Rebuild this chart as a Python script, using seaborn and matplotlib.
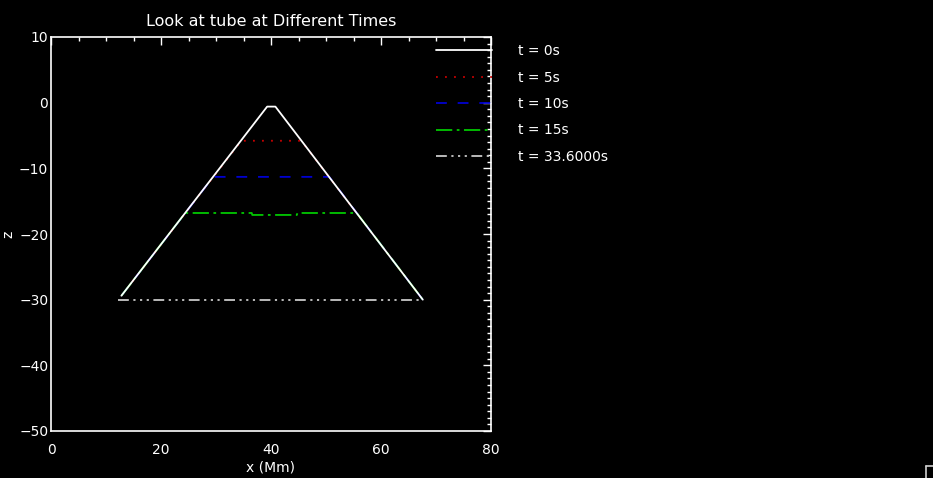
import numpy as np
import pandas as pd
import matplotlib
matplotlib.use('Agg')
import matplotlib.pyplot as plt
import seaborn as sns
from matplotlib.lines import Line2D

# ----------------------> data -------------------------------------------------

labels = ['t = 0s', 't = 5s', 't = 10s', 't = 15s', 't = 33.6000s']

x_t0 = [12.8, 39.3, 40.8, 67.6]
z_t0 = [-29.4, -0.6, -0.6, -30.0]

x_t5 = [12.8, 34.6, 45.5, 67.6]
z_t5 = [-29.4, -5.8, -5.8, -30.0]

x_t10 = [12.8, 29.5, 50.6, 67.6]
z_t10 = [-29.4, -11.3, -11.3, -30.0]

x_t15 = [12.8, 24.4, 36.5, 36.6, 44.7, 44.8, 55.6, 67.6]
z_t15 = [-29.4, -16.8, -16.8, -17.1, -17.1, -16.8, -16.8, -30.0]

x_t33 = [12.2, 67.1]
z_t33 = [-30.0, -30.0]

colors = ['white', '#c80000', '#0000d0', '#00c800', '#c8c8c8']
styles = ['-', (0, (1, 4)), (0, (6, 6)), (0, (9, 2.5, 1.5, 2.5)),
          (0, (6, 2.5, 1.2, 2.5, 1.2, 2.5, 1.2, 2.5))]

series = [(x_t0, z_t0), (x_t5, z_t5), (x_t10, z_t10), (x_t15, z_t15), (x_t33, z_t33)]

# ----------------------> plotting -------------------------------------------------

sns.set_style('dark')
plt.rcParams['font.family'] = ['DejaVu Sans']

fig = plt.figure(figsize=(9.33, 4.78), dpi=100, facecolor='black')
ax = fig.add_axes([51/933, 1 - 431/478, 440/933, 394/478])
ax.set_facecolor('black')

# draw white t=0 on top of the others
order = [1, 2, 3, 4, 0]
for i in order:
    xs, zs = series[i]
    sns.lineplot(x=xs, y=zs, sort=False, estimator=None, color=colors[i],
                 linestyle=styles[i], linewidth=1.3, ax=ax, label=labels[i],
                 zorder=3 if i == 0 else 2)

ax.set_xlim(0, 80)
ax.set_ylim(-50, 10)
ax.set_xticks([0, 20, 40, 60, 80])
ax.set_yticks([-50, -40, -30, -20, -10, 0, 10])
ax.set_xticks(np.arange(0, 81, 5), minor=True)
ax.set_yticks(np.arange(-50, 11, 1), minor=True)
ax.tick_params(which='both', direction='in', top=True, right=True,
               colors='white', labelcolor='white', labelsize=10, width=1)
ax.tick_params(axis='x', pad=9)
ax.tick_params(axis='y', pad=2)
ax.tick_params(which='major', length=6)
ax.tick_params(which='minor', length=3)
for sp in ax.spines.values():
    sp.set_color('white')
    sp.set_linewidth(1.2)
ax.grid(False)

ax.set_title('Look at tube at Different Times', color='white', fontsize=11.5, pad=8)
ax.set_xlabel('x (Mm)', color='white', fontsize=10, labelpad=2)
ax.set_ylabel('z', color='white', fontsize=10)
ax.yaxis.set_label_coords(-0.08, 0.5)

# legend lines sit inside the plot, text outside (IDL style)
h, l = ax.get_legend_handles_labels()
idx = [l.index(s) for s in labels]
leg = ax.legend([h[k] for k in idx], labels, loc='upper left',
                bbox_to_anchor=(436/933, 1 - 44/478), bbox_transform=fig.transFigure,
                frameon=False, fontsize=10, handlelength=4.0, handletextpad=1.9,
                labelspacing=0.9, borderpad=0, borderaxespad=0)
for t in leg.get_texts():
    t.set_color('white')

# small artifact in the bottom right corner
fig.add_artist(Line2D([926/933, 1], [1 - 466/478] * 2, color='#d0d0d0', lw=1.2,
                      transform=fig.transFigure))
fig.add_artist(Line2D([926/933] * 2, [0, 1 - 466/478], color='#d0d0d0', lw=1.2,
                      transform=fig.transFigure))

fig.savefig('out.png', dpi=100, facecolor='black')
